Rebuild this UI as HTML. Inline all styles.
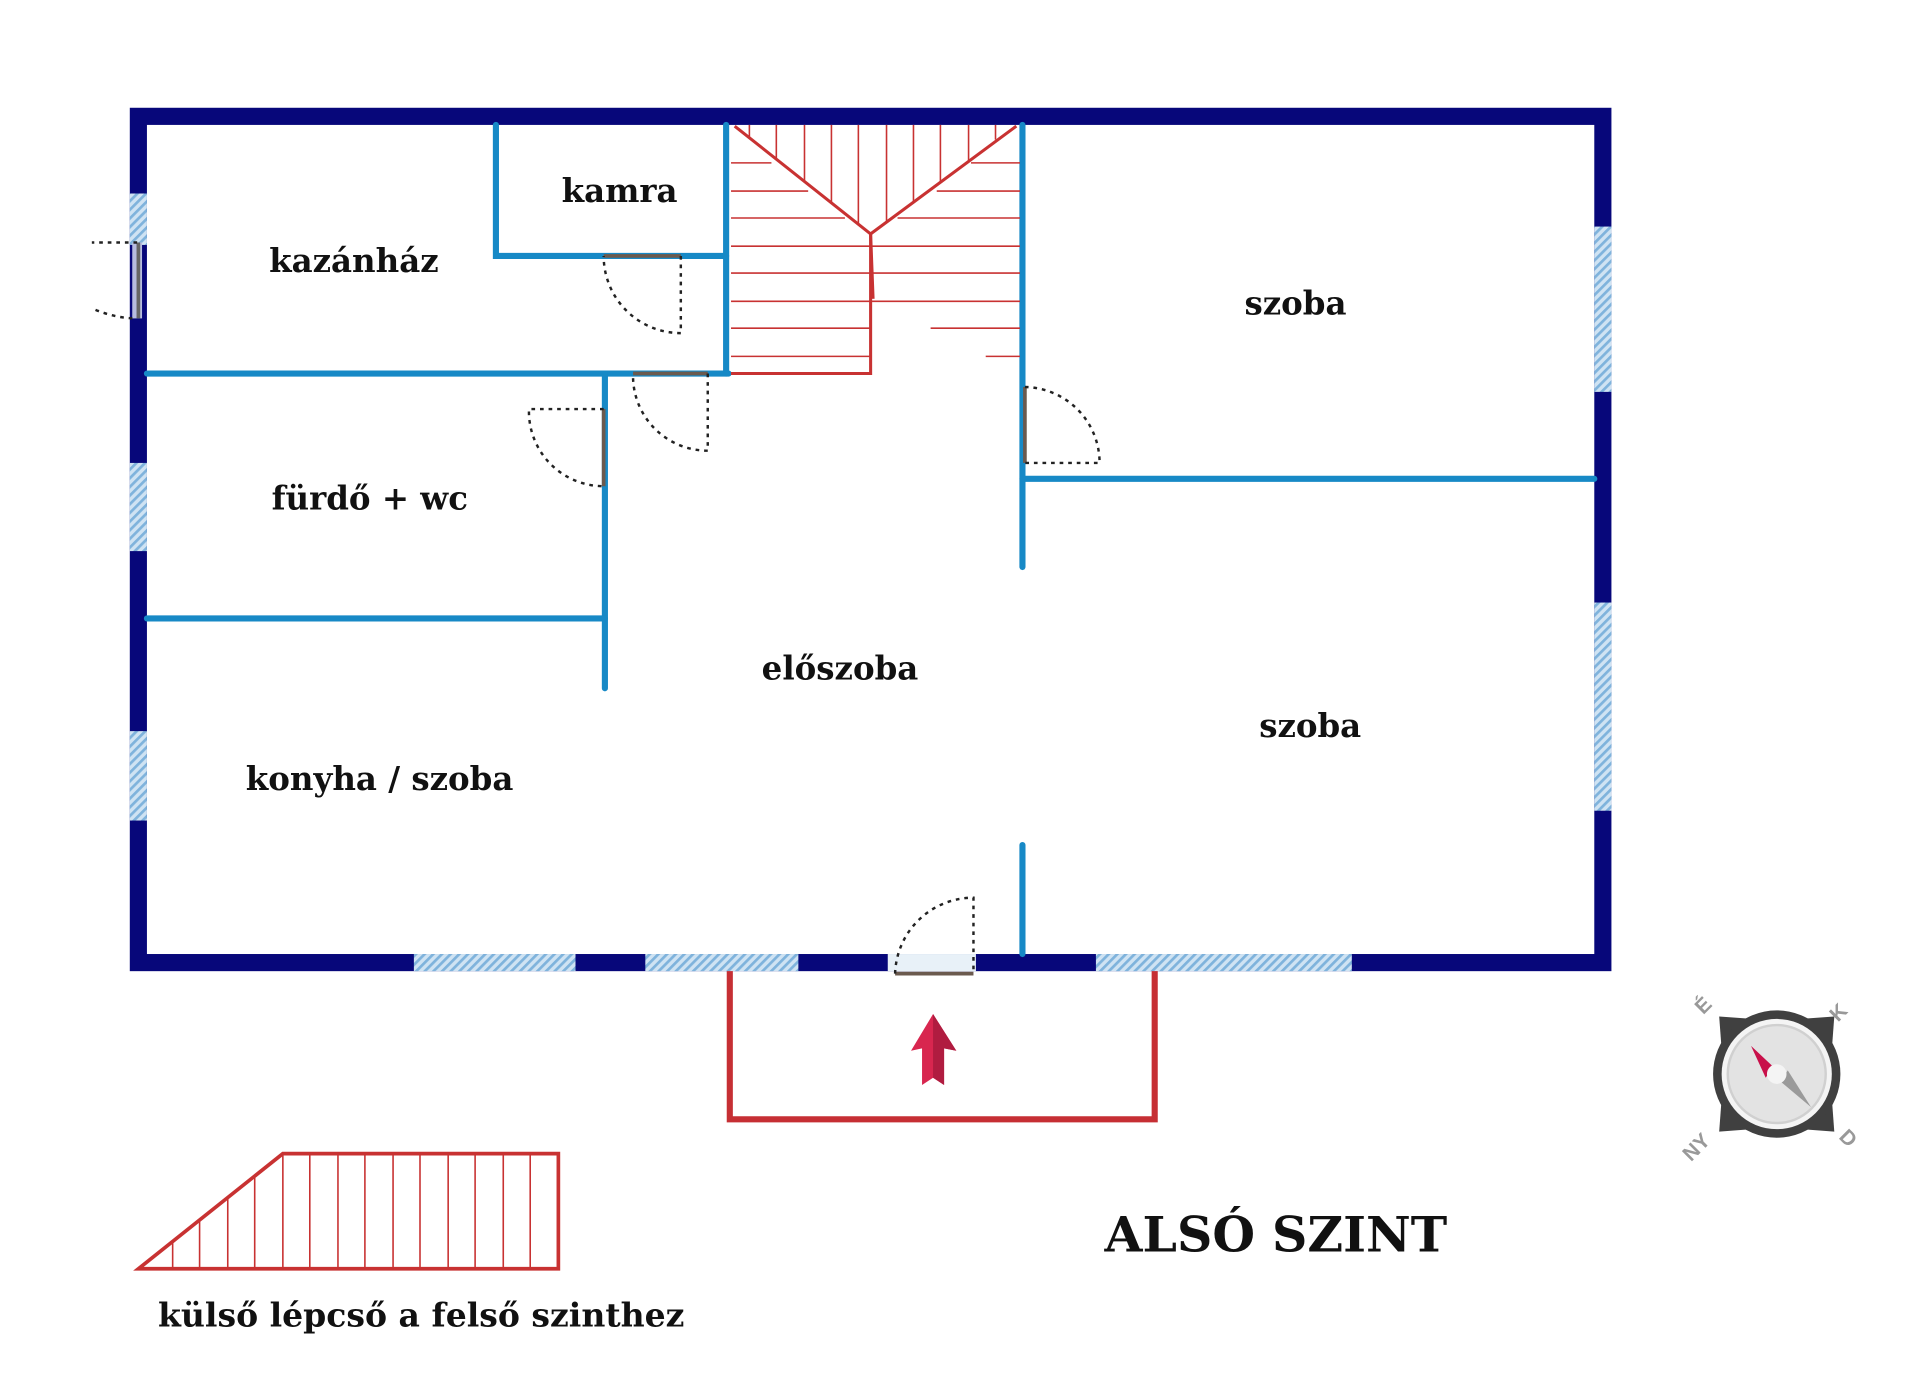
<!DOCTYPE html>
<html><head><meta charset="utf-8"><style>
html,body{margin:0;padding:0;background:#fff;}
svg{display:block}
text{font-family:"DejaVu Serif","Liberation Serif",serif;font-weight:bold;fill:#111;}
</style></head><body>
<svg width="1920" height="1390" viewBox="0 0 1568 1135" preserveAspectRatio="none" xmlns="http://www.w3.org/2000/svg">
<defs>
<pattern id="h" width="5" height="5" patternUnits="userSpaceOnUse" patternTransform="rotate(45)">
<rect width="5" height="5" fill="#cfe3f3"/><rect width="2.2" height="5" fill="#7fb3dc"/>
</pattern>
</defs>
<rect x="113" y="95" width="1196" height="691" fill="none" stroke="#07077a" stroke-width="14"/>
<g fill="url(#h)">
<rect x="106" y="158" width="14" height="42"/>
<rect x="106" y="378" width="14" height="72"/>
<rect x="106" y="597" width="14" height="73"/>
<rect x="1302" y="185" width="14" height="135"/>
<rect x="1302" y="492" width="14" height="170"/>
<rect x="338" y="779" width="132" height="14"/>
<rect x="527" y="779" width="125" height="14"/>
<rect x="895" y="779" width="209" height="14"/>
<rect x="725" y="779" width="72" height="14" fill="#e8f1f8"/>
</g>
<rect x="108" y="198" width="8" height="62" fill="#b7bde0"/>
<line x1="113" y1="198" x2="113" y2="260" stroke="#666" stroke-width="3"/>
<g stroke="#1789c6" stroke-width="5" fill="none" stroke-linecap="round">
<line x1="120" y1="305" x2="595" y2="305"/>
<polyline points="405,102 405,209 593,209"/>
<line x1="593" y1="102" x2="593" y2="305"/>
<line x1="494" y1="305" x2="494" y2="562"/>
<line x1="120" y1="505" x2="494" y2="505"/>
<line x1="835" y1="102" x2="835" y2="463"/>
<line x1="835" y1="391" x2="1302" y2="391"/>
<line x1="835" y1="690" x2="835" y2="779"/>
</g>
<g stroke="#c83232" stroke-width="1.3" fill="none">
<line x1="597" y1="133" x2="630" y2="133"/><line x1="597" y1="156" x2="660" y2="156"/><line x1="597" y1="178" x2="690" y2="178"/>
<line x1="793" y1="133" x2="833" y2="133"/><line x1="765" y1="156" x2="833" y2="156"/><line x1="733" y1="178" x2="833" y2="178"/>
<line x1="597" y1="201" x2="833" y2="201"/><line x1="597" y1="223" x2="833" y2="223"/><line x1="597" y1="246" x2="833" y2="246"/>
<line x1="597" y1="268" x2="711" y2="268"/><line x1="760" y1="268" x2="833" y2="268"/>
<line x1="597" y1="291" x2="711" y2="291"/><line x1="805" y1="291" x2="833" y2="291"/>
<line x1="612" y1="102" x2="612" y2="113"/><line x1="634" y1="102" x2="634" y2="130"/><line x1="657" y1="102" x2="657" y2="148"/>
<line x1="679" y1="102" x2="679" y2="166"/><line x1="701" y1="102" x2="701" y2="183"/><line x1="724" y1="102" x2="724" y2="182"/>
<line x1="746" y1="102" x2="746" y2="165"/><line x1="768" y1="102" x2="768" y2="148"/><line x1="791" y1="102" x2="791" y2="131"/>
<line x1="813" y1="102" x2="813" y2="114"/>
</g>
<g stroke="#c83232" stroke-width="2.5" fill="none">
<polyline points="600,103 711,191 830,103"/>
<polyline points="711,191 713,244"/>
<polyline points="711,191 711,305 597,305"/>
</g>
<g stroke="#6b5a4e" stroke-width="3">
<line x1="493" y1="209" x2="556" y2="209"/>
<line x1="517" y1="305" x2="578" y2="305"/>
<line x1="493" y1="334" x2="493" y2="397"/>
<line x1="837" y1="316" x2="837" y2="378"/>
<line x1="731" y1="795" x2="795" y2="795"/>
</g>
<g stroke="#222" stroke-width="2" stroke-dasharray="3,4" fill="none">
<path d="M556,209 V272 A63,63 0 0 1 493,209"/>
<path d="M578,305 V368 A61,61 0 0 1 517,305"/>
<path d="M493,334 H432 A61,61 0 0 0 493,397"/>
<path d="M837,316 A62,62 0 0 1 898,378 H837"/>
<path d="M731,795 A64,64 0 0 1 795,733 V795"/>
<path d="M112,198 H75 M78,253 Q95,260 112,260"/>
</g>
<polyline points="596,793 596,914 943,914 943,793" fill="none" stroke="#c62f34" stroke-width="5"/>
<polygon points="762,828 781,858 771,856 771,886 762,880 753,886 753,856 744,858" fill="#d8264f"/>
<polygon points="762,828 781,858 771,856 771,886 762,880" fill="#b01c40"/>
<g stroke="#c83232" fill="none">
<polygon points="113,1036 231,942 456,942 456,1036" stroke-width="3"/>
<g stroke-width="1.3">
<line x1="141" y1="1014" x2="141" y2="1036"/><line x1="163" y1="996" x2="163" y2="1036"/><line x1="186" y1="978" x2="186" y2="1036"/><line x1="208" y1="960" x2="208" y2="1036"/>
<line x1="231" y1="942" x2="231" y2="1036"/><line x1="253" y1="942" x2="253" y2="1036"/><line x1="276" y1="942" x2="276" y2="1036"/><line x1="298" y1="942" x2="298" y2="1036"/>
<line x1="321" y1="942" x2="321" y2="1036"/><line x1="343" y1="942" x2="343" y2="1036"/><line x1="366" y1="942" x2="366" y2="1036"/><line x1="388" y1="942" x2="388" y2="1036"/>
<line x1="411" y1="942" x2="411" y2="1036"/><line x1="433" y1="942" x2="433" y2="1036"/>
</g></g>
<g font-size="26.5">
<text x="506" y="165" text-anchor="middle">kamra</text>
<text x="289" y="222" text-anchor="middle">kazánház</text>
<text x="1058" y="257" text-anchor="middle">szoba</text>
<text x="302" y="416" text-anchor="middle">fürdő + wc</text>
<text x="686" y="555" text-anchor="middle">előszoba</text>
<text x="1070" y="602" text-anchor="middle">szoba</text>
<text x="310" y="645" text-anchor="middle">konyha / szoba</text>
<text x="344" y="1083" text-anchor="middle" font-size="27">külső lépcső a felső szinthez</text>
</g>
<text x="1042" y="1022" text-anchor="middle" font-size="40">ALSÓ SZINT</text>
<g transform="translate(1451,877)">
<g fill="#404040">
<polygon points="-47,-47 -45,-20 -20,-45"/><polygon points="47,-47 45,-20 20,-45"/>
<polygon points="-47,47 -45,20 -20,45"/><polygon points="47,47 45,20 20,45"/>
</g>
<circle r="52" fill="#404040"/><circle r="45" fill="#f4f4f4"/><circle r="40" fill="#e3e3e3" stroke="#d0d0d0" stroke-width="2"/>
<polygon points="-21,-23 -3,-6 -9,3" fill="#c8104a"/>
<polygon points="28,27 3,6 9,-3" fill="#9a9a9a"/>
<circle r="8" fill="#f4f4f4"/>
<g font-size="17">
<text x="-60" y="-48" transform="rotate(-45 -60 -48)" style="fill:#999;font-family:'Liberation Sans',sans-serif;font-weight:bold">É</text>
<text x="50" y="-42" transform="rotate(-45 50 -42)" style="fill:#999;font-family:'Liberation Sans',sans-serif;font-weight:bold">K</text>
<text x="-70" y="72" transform="rotate(-45 -70 72)" style="fill:#999;font-family:'Liberation Sans',sans-serif;font-weight:bold">NY</text>
<text x="50" y="52" transform="rotate(45 50 52)" style="fill:#999;font-family:'Liberation Sans',sans-serif;font-weight:bold">D</text>
</g>
</g>
</svg>
</body></html>
